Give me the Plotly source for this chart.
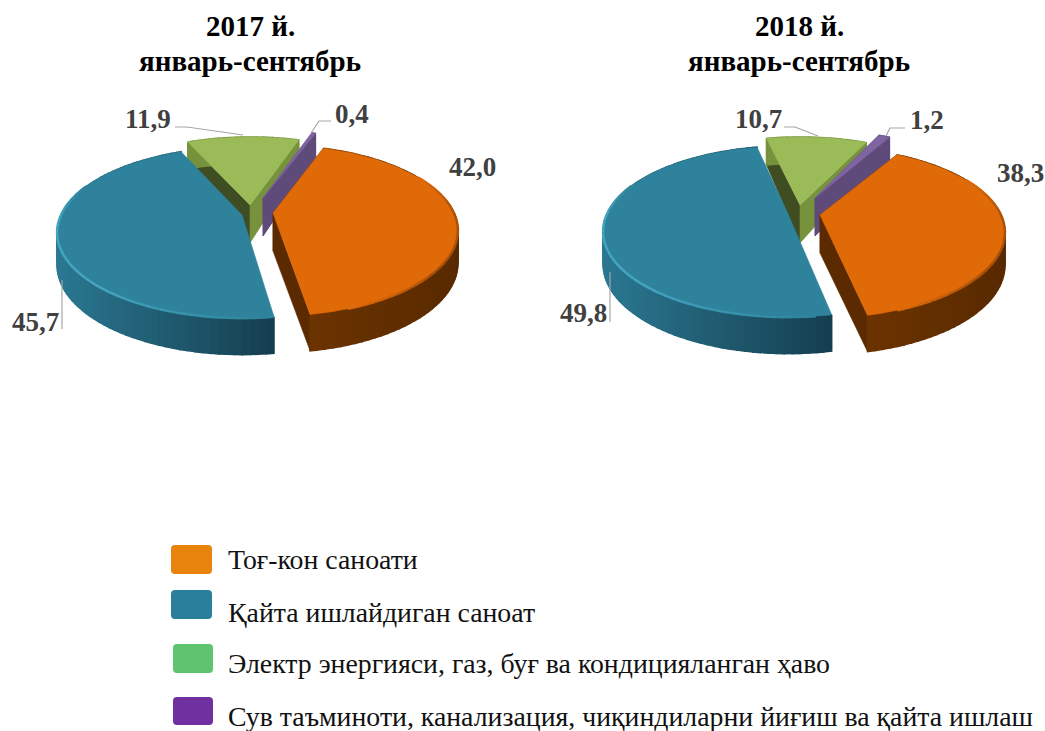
import math
import plotly.graph_objects as go

# ---------- data ----------
categories = ["Тоғ-кон саноати", "Қайта ишлайдиган саноат",
              "Электр энергияси, газ, буғ ва кондицияланган ҳаво",
              "Сув таъминоти, канализация, чиқиндиларни йиғиш ва қайта ишлаш"]
values_2017 = [42.0, 45.7, 11.9, 0.4]
values_2018 = [38.3, 49.8, 10.7, 1.2]
title_line_1 = ["2017 й.", "2018 й."]
title_line_2 = ["январь-сентябрь", "январь-сентябрь"]
legend_colors = ["#E8830C", "#2A7F9B", "#5FC46E", "#7030A0"]

# ---------- styles ----------
TOP = ["#E06A08", "#2F829B", "#9BBB59", "#8064A2"]
WALL_L = ["#6B3300", "#2B7892", "#76923C", "#5F4B7A"]
WALL_R = ["#592A00", "#153E4F", "#76923C", "#5F4B7A"]
FACE_START = ["#5C2A00", None, "#3F4D22", "#5F4B7A"]
FACE_END = ["#5C2A00", None, "#76923C", "#5F4B7A"]
RIM = ["#A9500A", "#45A6C2", "#9BBB59", "#8064A2"]
SERIF = "Liberation Serif"
R, A, C = 181.0, 82.0, 0.205   # perspective projection of the pie disc


def mix(a, b, t):
    ca = [int(a[i:i + 2], 16) for i in (1, 3, 5)]
    cb = [int(b[i:i + 2], 16) for i in (1, 3, 5)]
    return "#" + "".join(f"{round(x + (y - x) * t):02X}" for x, y in zip(ca, cb))


def pt(apex, deg):
    th = math.radians(deg)
    u, v = math.sin(th), math.cos(th)
    w = 1 + C * v
    return apex[0] + R * u / w, apex[1] - A * v / w


def depth(deg):
    return 31.5 - 5 * math.cos(math.radians(deg))


def poly(fig, pts, color, lw=0.6):
    fig.add_trace(go.Scatter(x=[p[0] for p in pts] + [pts[0][0]], y=[p[1] for p in pts] + [pts[0][1]],
                             mode="lines", fill="toself", fillcolor=color,
                             line=dict(color=color, width=lw), hoverinfo="skip", showlegend=False))


def arc(a0, a1, step=2.0):
    n = max(2, int(abs(a1 - a0) / step))
    return [a0 + (a1 - a0) * i / n for i in range(n + 1)]


def rim_strength(idx, d):
    if idx == 1:   # teal: bright on the left, fading towards the front cut and the back
        return max(0.0, min(1.0, (d - 172) / 50, (292 - d) / 25))
    # orange: soft darker edge low on the right
    return max(0.0, min(1.0, (d - 62) / 30, (160 - d) / 30))


def draw_pie(fig, values, start, apexes, turns, apex_depth=38):
    spans, cur = [], start
    for v, turn in zip(values, turns):
        spans.append((cur + turn, cur + turn + v * 3.6))
        cur += v * 3.6
    for idx in (2, 3, 1, 0):
        a0, a1 = spans[idx]
        apex = apexes[idx]
        base = (apex[0], apex[1] + apex_depth)
        # cut faces
        for deg, col in ((a0, FACE_START[idx]), (a1, FACE_END[idx])):
            if col is None:
                continue
            p = pt(apex, deg)
            poly(fig, [apex, p, (p[0], p[1] + depth(deg)), base], col)
        # outer wall, shaded left-to-right
        degs = arc(a0, a1, 2.0)
        xs = [pt(apex, d)[0] for d in degs]
        lo, hi = min(xs), max(xs)
        for d0, d1 in zip(degs, degs[1:]):
            p0, p1 = pt(apex, d0), pt(apex, d1)
            t = ((p0[0] + p1[0]) / 2 - lo) / max(hi - lo, 1)
            poly(fig, [p0, p1, (p1[0], p1[1] + depth(d1)), (p0[0], p0[1] + depth(d0))],
                 mix(WALL_L[idx], WALL_R[idx], t), lw=1.5)
        # top surface
        poly(fig, [apex] + [pt(apex, d) for d in arc(a0, a1)], TOP[idx])
        # bevel along the rim, fading out
        if idx < 2:
            for d0, d1 in zip(degs, degs[1:]):
                s = rim_strength(idx, (d0 + d1) / 2)
                if s <= 0:
                    continue
                p0, p1 = pt(apex, d0), pt(apex, d1)
                fig.add_trace(go.Scatter(x=[p0[0], p1[0]], y=[p0[1], p1[1]], mode="lines",
                                         line=dict(color=mix(TOP[idx], RIM[idx], s), width=2.5),
                                         hoverinfo="skip", showlegend=False))


def leader(fig, xs, ys):
    fig.add_trace(go.Scatter(x=xs, y=ys, mode="lines", line=dict(color="#A6A6A6", width=1.2),
                             hoverinfo="skip", showlegend=False))


def fmt(v):
    return f"{v:.1f}".replace(".", ",")


fig = go.Figure()
draw_pie(fig, values_2017, 20.7, [(273, 213), (242, 215), (250, 205), (263, 198)], [-1.3, 0, -0.5, -0.5])
draw_pie(fig, values_2018, 31, [(820, 215), (788, 214), (800, 205), (815, 198)], [-1, 0, -1, -2])

leader(fig, [175, 187, 243], [127, 127, 135])
leader(fig, [331, 319, 311], [121, 121, 133])
leader(fig, [62, 62], [329, 280])
leader(fig, [784, 795, 818], [127, 127, 136])
leader(fig, [905, 890, 886], [128, 128, 136])
leader(fig, [610, 610], [322, 272])

ann = []
def label(x, y, text, size=27, color="#404040", bold=True, anchor="center"):
    ann.append(dict(x=x, y=y, xref="x", yref="y", text=f"<b>{text}</b>" if bold else text, showarrow=False,
                    xanchor=anchor, yanchor="middle", align="center",
                    font=dict(family=SERIF, size=size, color=color)))

for (x, y), v in zip([(472, 167), (35, 322), (148, 119), (352, 114)], values_2017):
    label(x, y, fmt(v))
for (x, y), v in zip([(1020, 173), (583, 313), (758, 119), (927, 120)], values_2018):
    label(x, y, fmt(v))
for x, a, b in zip([250, 799], title_line_1, title_line_2):
    label(x, 26, a, size=29, color="#000000")
    label(x, 61, b, size=29, color="#000000")

shapes = []
swatches = [(171, 545, 212, 574), (171, 590, 212, 619), (173, 644, 213, 673), (173, 697, 213, 725)]
text_y = [559, 612, 663, 716]
for (x0, y0, x1, y1), col, name, ty in zip(swatches, legend_colors, categories, text_y):
    r = 4
    path = (f"M{x0 + r},{y0} L{x1 - r},{y0} Q{x1},{y0} {x1},{y0 + r} L{x1},{y1 - r} Q{x1},{y1} {x1 - r},{y1} "
            f"L{x0 + r},{y1} Q{x0},{y1} {x0},{y1 - r} L{x0},{y0 + r} Q{x0},{y0} {x0 + r},{y0} Z")
    shapes.append(dict(type="path", path=path, fillcolor=col, line=dict(width=0), xref="x", yref="y"))
    label(226, ty, name, size=27.8, color="#111111", bold=False, anchor="left")

fig.update_layout(width=1045, height=731, margin=dict(l=0, r=0, t=0, b=0),
                  paper_bgcolor="white", plot_bgcolor="white", showlegend=False,
                  annotations=ann, shapes=shapes,
                  xaxis=dict(range=[0, 1045], visible=False, fixedrange=True),
                  yaxis=dict(range=[731, 0], visible=False, fixedrange=True))
fig.write_html("out.html", config={"displayModeBar": False},
               default_width="1045px", default_height="731px",
               post_script="document.documentElement.style.margin='0';document.body.style.margin='0';")
